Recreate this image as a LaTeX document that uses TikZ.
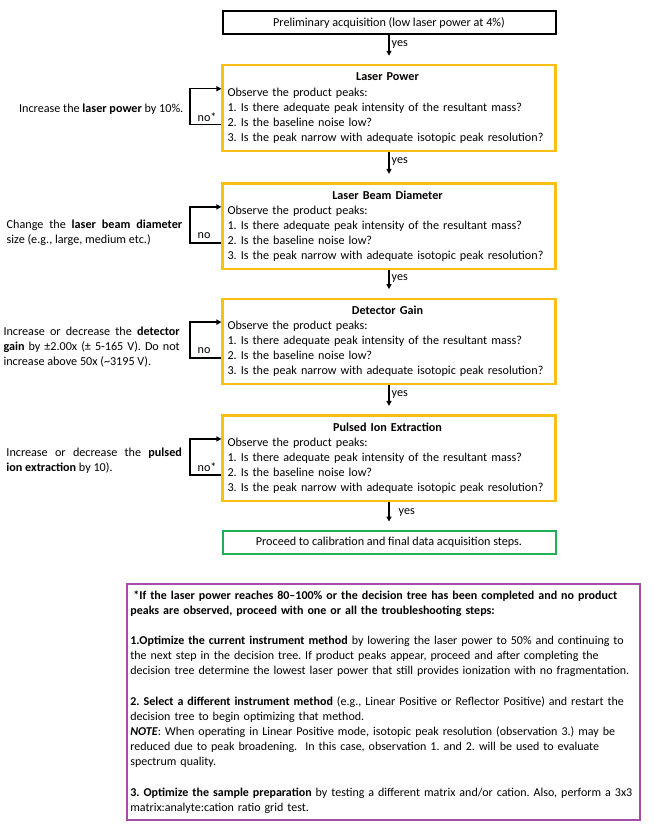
\documentclass[tikz,border=0pt]{standalone}
\usepackage{fontspec}
\setmainfont{Carlito}
\usetikzlibrary{arrows.meta}
\definecolor{ybox}{HTML}{FBBF12}
\definecolor{gbox}{HTML}{1DB054}
\definecolor{pbox}{HTML}{A64DA8}
\frenchspacing
\hyphenpenalty=10000
\exhyphenpenalty=10000
\newcommand\obsq{Observe the product peaks:\\
1. Is there adequate peak intensity of the resultant mass?\\
2. Is the baseline noise low?\\
3. Is the peak narrow with adequate isotopic peak resolution?}
\begin{document}
\begin{tikzpicture}[x=1pt,y=-1pt,
  base/.style={font=\fontsize{12.15}{15.1}\selectfont},
  flowbox/.style={base,draw=ybox,line width=2.1pt,minimum width=333pt,minimum height=85.7pt,text width=323pt,inner xsep=5pt,inner ysep=0pt,align=left},
  thinbox/.style={base,draw,line width=2pt,minimum width=333pt,minimum height=23.3pt,inner sep=0pt,align=center},
  arr/.style={line width=1.4pt,-{Triangle[length=5pt,width=5pt]},shorten >=8.5pt},
  loopline/.style={line width=1.4pt,-{Triangle[length=5pt,width=5pt]}},
  yeslbl/.style={base,anchor=west,inner sep=2pt,pos=0.32},
  nolbl/.style={base,anchor=west,inner sep=0pt},
  side/.style={base,inner sep=0pt,align=left}]
\fill[white] (0,0) rectangle (654,833);
\useasboundingbox (0,0) rectangle (654,833);

\node[thinbox,draw=black] (prelim) at (389,22.7) {Preliminary acquisition (low laser power at 4\%)};
\node[flowbox] (lp) at (389,108.15) {\makebox[320pt]{\bfseries Laser Power}\\ \obsq};
\node[flowbox] (lbd) at (389,226.3) {\makebox[320pt]{\bfseries Laser Beam Diameter}\\ \obsq};
\node[flowbox] (dg) at (389,341.5) {\makebox[320pt]{\bfseries Detector Gain}\\ \obsq};
\node[flowbox] (pie) at (389,458.35) {\makebox[320pt]{\bfseries Pulsed Ion Extraction}\\ \obsq};
\node[thinbox,draw=gbox] (final) at (389,542.7) {Proceed to calibration and final data acquisition steps.};

\draw[arr] (prelim.south) -- node[yeslbl] (y1) {yes} (lp.north);
\draw[arr] (lp.south) -- node[yeslbl] (y2) {yes} (lbd.north);
\draw[arr] (lbd.south) -- node[yeslbl] (y3) {yes} (dg.north);
\draw[arr] (dg.south) -- node[yeslbl] (y4) {yes} (pie.north);
\draw[arr] (pie.south) -- node[yeslbl,xshift=7pt,pos=0.37] (y5) {yes} (final.north);

\foreach \b/\lab in {lp/no*,lbd/no,dg/no,pie/no*}{
  \draw[loopline] ([yshift=-60.5pt]\b.north west) -- ++(-31.6,0) |- ([yshift=-24.5pt]\b.north west);
  \node[nolbl] (no\b) at ([xshift=-24pt,yshift=-53pt]\b.north west) {\lab};
}

\node[side,anchor=east] (slp) at (183.5,109) {Increase the \textbf{laser power} by 10\%.};
\node[side,anchor=west] (slbd) at (6.5,233) {\makebox[175.5pt][s]{Change the \textbf{laser beam diameter}}\\ size (e.g., large, medium etc.)};
\node[side,anchor=west] (sdg) at (3.3,346.9) {\makebox[176.3pt][s]{Increase or decrease the \textbf{detector}}\\ \makebox[176.3pt][s]{\textbf{gain} by ±2.00x (± 5-165 V). Do not}\\ increase above 50x (\textasciitilde3195 V).};
\node[side,anchor=west] (spie) at (6.25,460.8) {\makebox[175.5pt][s]{Increase or decrease the \textbf{pulsed}}\\ \textbf{ion extraction} by 10).};

\node[font=\fontsize{12}{15.15}\selectfont,draw=pbox,line width=2pt,minimum width=513.3pt,minimum height=236pt,text width=506pt,inner xsep=3.6pt,inner ysep=0pt,align=left] (note) at (383.35,702) {%
\textbf{\hspace{3pt}*If the laser power reaches 80–100\% or the decision tree has been completed and no product}\\
\textbf{peaks are observed, proceed with one or all the troubleshooting steps:}\\[15.15pt]
\textbf{1.Optimize the current instrument method} by lowering the laser power to 50\% and continuing to\\
the next step in the decision tree. If product peaks appear, proceed and after completing the\\
decision tree determine the lowest laser power that still provides ionization with no fragmentation.\\[15.15pt]
\textbf{2. Select a different instrument method} (e.g., Linear Positive or Reflector Positive) and restart the\\
decision tree to begin optimizing that method.\\
\textbf{\textit{NOTE}}: When operating in Linear Positive mode, isotopic peak resolution (observation 3.) may be\\
reduced due to peak broadening.\ \ In this case, observation 1. and 2. will be used to evaluate\\
spectrum quality.\\[15.15pt]
\textbf{3. Optimize the sample preparation} by testing a different matrix and/or cation. Also, perform a 3x3\\
matrix:analyte:cation ratio grid test.};
\end{tikzpicture}
\end{document}
